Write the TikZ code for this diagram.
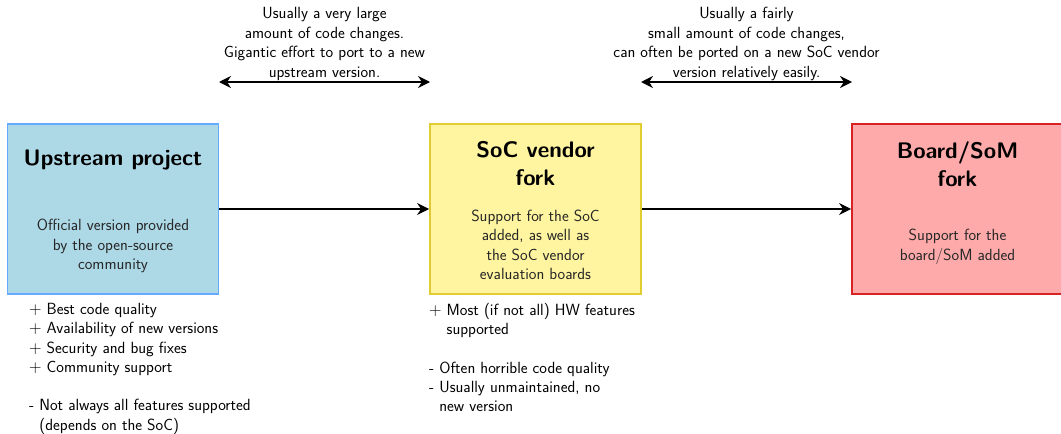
\documentclass[tikz,border=0pt]{standalone}
\usetikzlibrary{arrows.meta}
\definecolor{upfill}{RGB}{173,216,230}
\definecolor{updraw}{RGB}{102,170,255}
\definecolor{socfill}{RGB}{255,245,160}
\definecolor{socdraw}{RGB}{225,205,50}
\definecolor{brdfill}{RGB}{255,170,170}
\definecolor{brddraw}{RGB}{215,35,35}
\begin{document}
\begin{tikzpicture}[x=1pt,y=-1pt,
  box/.style={draw, line width=1.8pt, minimum width=211pt, minimum height=170pt, inner sep=0pt},
  title/.style={font=\sffamily\bfseries\fontsize{22.5}{28}\selectfont, align=center},
  body/.style={font=\sffamily\fontsize{16.2}{19.5}\selectfont, align=center, text=black!85},
  note/.style={font=\sffamily\fontsize{16.2}{19.5}\selectfont, align=center},
  list/.style={font=\sffamily\fontsize{16.2}{19.3}\selectfont, align=left, anchor=north west, inner sep=0pt},
  flow/.style={line width=1.5pt, -{Stealth[length=12pt,width=12pt]}},
  span/.style={line width=1.5pt, {Stealth[length=12pt,width=12pt]}-{Stealth[length=12pt,width=12pt]}}
]
\useasboundingbox (0,0) rectangle (1061,434);

% the three code bases
\node[box, fill=upfill, draw=updraw] (up) at (113,209) {};
\node[box, fill=socfill, draw=socdraw] (soc) at (535.5,209) {};
\node[box, fill=brdfill, draw=brddraw] (brd) at (957.5,209) {};

\node[title] (upt) at (113,160) {Upstream project};
\node[title] (soct) at (535.5,164) {SoC vendor\\fork};
\node[title] (brdt) at (957.5,164) {Board/SoM\\fork};

\node[body] (upb) at (113,246) {Official version provided\\by the open-source\\community};
\node[body] (socb) at (535.5,245) {Support for the SoC\\added, as well as\\the SoC vendor\\evaluation boards};
\node[body] (brdb) at (957.5,247) {Support for the\\board/SoM added};

% forks
\draw[flow] (up.east) -- (soc.west);
\draw[flow] (soc.east) -- (brd.west);

% effort to port between versions
\coordinate (s1a) at (219,82);
\coordinate (s1b) at (430,82);
\coordinate (s2a) at (641,82);
\coordinate (s2b) at (852,82);
\draw[span] (s1a) -- (s1b);
\draw[span] (s2a) -- (s2b);
\node[note] (n1) at (324.5,44) {Usually a very large\\amount of code changes.\\Gigantic effort to port to a new\\upstream version.};
\node[note] (n2) at (746.5,44) {Usually a fairly\\small amount of code changes,\\can often be ported on a new SoC vendor\\version relatively easily.};

% pros and cons
\node[list] (upl) at (29,303) {$+$ Best code quality\\
$+$ Availability of new versions\\
$+$ Security and bug fixes\\
$+$ Community support\\[19.3pt]
- Not always all features supported\\
\phantom{- }(depends on the SoC)};
\node[list] (socl) at (429,303) {$+$ Most (if not all) HW features\\
\phantom{$+$ }supported\\[19.3pt]
- Often horrible code quality\\
- Usually unmaintained, no\\
\phantom{- }new version};
\end{tikzpicture}
\end{document}
